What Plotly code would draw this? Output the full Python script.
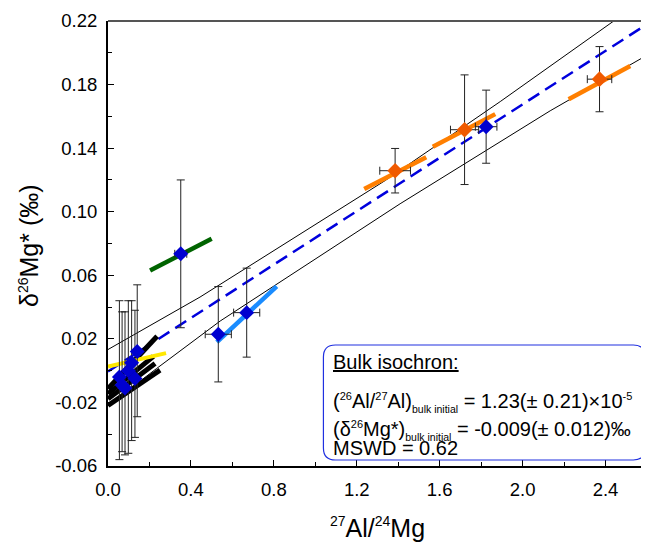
import plotly.graph_objects as go

# ---------------- data ----------------
cluster_x = [0.055, 0.068, 0.082, 0.098, 0.114, 0.130, 0.141]
cluster_y = [-0.004, -0.009, -0.011, 0.000, 0.005, -0.005, 0.012]
cluster_ey_plus = [0.048, 0.046, 0.048, 0.044, 0.039, 0.043, 0.042]
cluster_ey_minus = [0.052, 0.042, 0.042, 0.052, 0.049, 0.037, 0.041]

blue_x = [0.351, 0.532, 0.669, 1.824]
blue_y = [0.0735, 0.0229, 0.0365, 0.1535]
blue_ey = [0.0465, 0.030, 0.028, 0.023]
blue_ex = [0.029, 0.063, 0.063, 0.052]

orange_x = [1.385, 1.720, 2.371]
orange_y = [0.1258, 0.1516, 0.1834]
orange_ey = [0.014, 0.0345, 0.0205]
orange_ex = [0.074, 0.068, 0.059]

# internal isochron segments (start/end)
green_x = [0.203, 0.500]
green_y = [0.063, 0.083]
lightblue_x = [0.525, 0.814]
lightblue_y = [0.018, 0.053]
yellow_x = [0.0, 0.280]
yellow_y = [0.0026, 0.011]
orange_seg_x = [[1.236, 1.535], [1.567, 1.868], [2.222, 2.519]]
orange_seg_y = [[0.1143, 0.1342], [0.1409, 0.1614], [0.1708, 0.1917]]
black_seg_x = [[0.0, 0.237], [0.0, 0.219], [0.0, 0.227], [0.0, 0.251]]
black_seg_y = [[-0.0114, 0.0216], [-0.0145, 0.009], [-0.0177, 0.0045], [-0.0219, 0.0003]]

# bulk isochron and its error envelope
iso_x = [0.0, 2.6]
iso_y = [-0.0005, 0.218]
upper_x = [0.0, 0.444, 1.337, 1.892, 2.445]
upper_y = [0.0133, 0.0463, 0.1196, 0.1693, 0.2205]
lower_x = [0.0, 0.235, 0.541, 1.409, 2.133, 2.6]
lower_y = [-0.022, 0.0014, 0.0312, 0.105, 0.1635, 0.1985]

x_tickvals = [0.0, 0.4, 0.8, 1.2, 1.6, 2.0, 2.4]
x_ticktext = ["0.0", "0.4", "0.8", "1.2", "1.6", "2.0", "2.4"]
y_tickvals = [-0.06, -0.02, 0.02, 0.06, 0.10, 0.14, 0.18, 0.22]
y_ticktext = ["-0.06", "-0.02", "0.02", "0.06", "0.10", "0.14", "0.18", "0.22"]

# ---------------- figure ----------------
FONT = "Liberation Sans, Arial, Helvetica, sans-serif"
OFF = 8  # page body margin in the browser
W, H = 641, 536
ML, MR, MT, MB = 100, 2.3, 13, 78
PW, PH = W - ML - MR, H - MT - MB


def px(xp):  # window pixel -> paper x
    return (xp - OFF - ML) / PW


def py(yp):  # window pixel -> paper y
    return (H - MB - (yp - OFF)) / PH


fig = go.Figure()

# envelope
fig.add_trace(go.Scatter(x=upper_x, y=upper_y, mode="lines",
                         line=dict(color="black", width=1), showlegend=False))
fig.add_trace(go.Scatter(x=lower_x, y=lower_y, mode="lines",
                         line=dict(color="black", width=1), showlegend=False))
# bulk isochron
fig.add_trace(go.Scatter(x=iso_x, y=iso_y, mode="lines",
                         line=dict(color="#0000DD", width=2.5, dash="13px,7px"),
                         showlegend=False))

# internal isochrons
for sx, sy in zip(black_seg_x, black_seg_y):
    fig.add_trace(go.Scatter(x=sx, y=sy, mode="lines",
                             line=dict(color="black", width=5), showlegend=False))
fig.add_trace(go.Scatter(x=yellow_x, y=yellow_y, mode="lines",
                         line=dict(color="#FFE800", width=4), showlegend=False))
fig.add_trace(go.Scatter(x=green_x, y=green_y, mode="lines",
                         line=dict(color="#006400", width=4.5), showlegend=False))
fig.add_trace(go.Scatter(x=lightblue_x, y=lightblue_y, mode="lines",
                         line=dict(color="#1A8CFF", width=4.5), showlegend=False))
for sx, sy in zip(orange_seg_x, orange_seg_y):
    fig.add_trace(go.Scatter(x=sx, y=sy, mode="lines",
                             line=dict(color="#FF7F00", width=4.5), showlegend=False))

err_style = dict(color="#222222", thickness=1, width=4)

# cluster points
fig.add_trace(go.Scatter(
    x=cluster_x, y=cluster_y, mode="markers",
    marker=dict(symbol="diamond", size=11.5, color="#0000D0", line=dict(width=0)),
    error_y=dict(type="data", symmetric=False, array=cluster_ey_plus,
                 arrayminus=cluster_ey_minus, **err_style),
    showlegend=False))
# blue points
fig.add_trace(go.Scatter(
    x=blue_x, y=blue_y, mode="markers",
    marker=dict(symbol="diamond", size=11.5, color="#0000D0", line=dict(width=0)),
    error_y=dict(type="data", array=blue_ey, **err_style),
    error_x=dict(type="data", array=blue_ex, **err_style),
    showlegend=False))
# orange points
fig.add_trace(go.Scatter(
    x=orange_x, y=orange_y, mode="markers",
    marker=dict(symbol="diamond", size=12, color="#F05A00", line=dict(width=0)),
    error_y=dict(type="data", array=orange_ey, **err_style),
    error_x=dict(type="data", array=orange_ex, **err_style),
    showlegend=False))

# frame (top & right, grey)
fig.add_shape(type="line", xref="paper", yref="paper", x0=0, x1=1, y0=1, y1=1,
              line=dict(color="#555555", width=2))
fig.add_shape(type="line", xref="paper", yref="paper", x0=1, x1=1, y0=0, y1=1,
              line=dict(color="#999999", width=1.5))

# rounded legend box
bx0, bx1, by0, by1 = px(323.3), px(645), py(460), py(345)
rx, ry = 12 / PW, 12 / PH
path = (f"M {bx0+rx},{by1} L {bx1-rx},{by1} Q {bx1},{by1} {bx1},{by1-ry} "
        f"L {bx1},{by0+ry} Q {bx1},{by0} {bx1-rx},{by0} "
        f"L {bx0+rx},{by0} Q {bx0},{by0} {bx0},{by0+ry} "
        f"L {bx0},{by1-ry} Q {bx0},{by1} {bx0+rx},{by1} Z")
fig.add_shape(type="path", xref="paper", yref="paper", path=path,
              line=dict(color="#2030E0", width=1.2), fillcolor="rgba(255,255,255,0)")

SUB = "<sub><span style='font-size:10.5px'>bulk initial</span></sub>"


def sup(t, s=11):
    return f"<sup><span style='font-size:{s}px'>{t}</span></sup>"


box_lines = [
    ("<u>Bulk isochron:</u>", 362),
    (f"({sup('26')}Al/{sup('27')}Al){SUB} = 1.23(± 0.21)×10{sup('-5')}", 402),
    (f"(δ{sup('26')}Mg*){SUB} = -0.009(± 0.012)‰", 430),
    ("MSWD = 0.62", 448),
]
for txt, yc in box_lines:
    fig.add_annotation(text=txt, xref="paper", yref="paper", x=px(331), y=py(yc),
                       xanchor="left", yanchor="middle", showarrow=False,
                       font=dict(family=FONT, size=20, color="black"))

# axis titles
fig.add_annotation(text=f"δ{sup('26', 14)}Mg* (‰)", xref="paper", yref="paper",
                   x=px(29), y=py(245), textangle=-90, xanchor="center", yanchor="middle",
                   showarrow=False, font=dict(family=FONT, size=25, color="black"))
fig.add_annotation(text=f"{sup('27', 14)}Al/{sup('24', 14)}Mg", xref="paper", yref="paper",
                   x=px(377), y=py(527), xanchor="center", yanchor="middle",
                   showarrow=False, font=dict(family=FONT, size=25, color="black"))

axis_common = dict(showgrid=False, zeroline=False, showline=True, linecolor="black",
                   linewidth=2, ticks="inside", ticklen=6, tickwidth=1, tickcolor="black",
                   tickfont=dict(family=FONT, size=18.5, color="black"))

fig.update_xaxes(range=[0, 2.6], tickvals=x_tickvals, ticktext=x_ticktext,
                 minor=dict(tickvals=[0.2, 0.6, 1.0, 1.4, 1.8, 2.2], ticks="inside",
                            ticklen=4, tickcolor="black"),
                 ticklabelstandoff=6, **axis_common)
fig.update_yaxes(range=[-0.06, 0.22], tickvals=y_tickvals, ticktext=y_ticktext,
                 minor=dict(tickvals=[-0.04, 0.0, 0.04, 0.08, 0.12, 0.16, 0.20],
                            ticks="inside", ticklen=4, tickcolor="black"),
                 ticklabelstandoff=5, **axis_common)

fig.update_layout(width=W, height=H, margin=dict(l=ML, r=MR, t=MT, b=MB),
                  plot_bgcolor="white", paper_bgcolor="white",
                  font=dict(family=FONT, color="black"), showlegend=False)

fig.write_html("out.html")
